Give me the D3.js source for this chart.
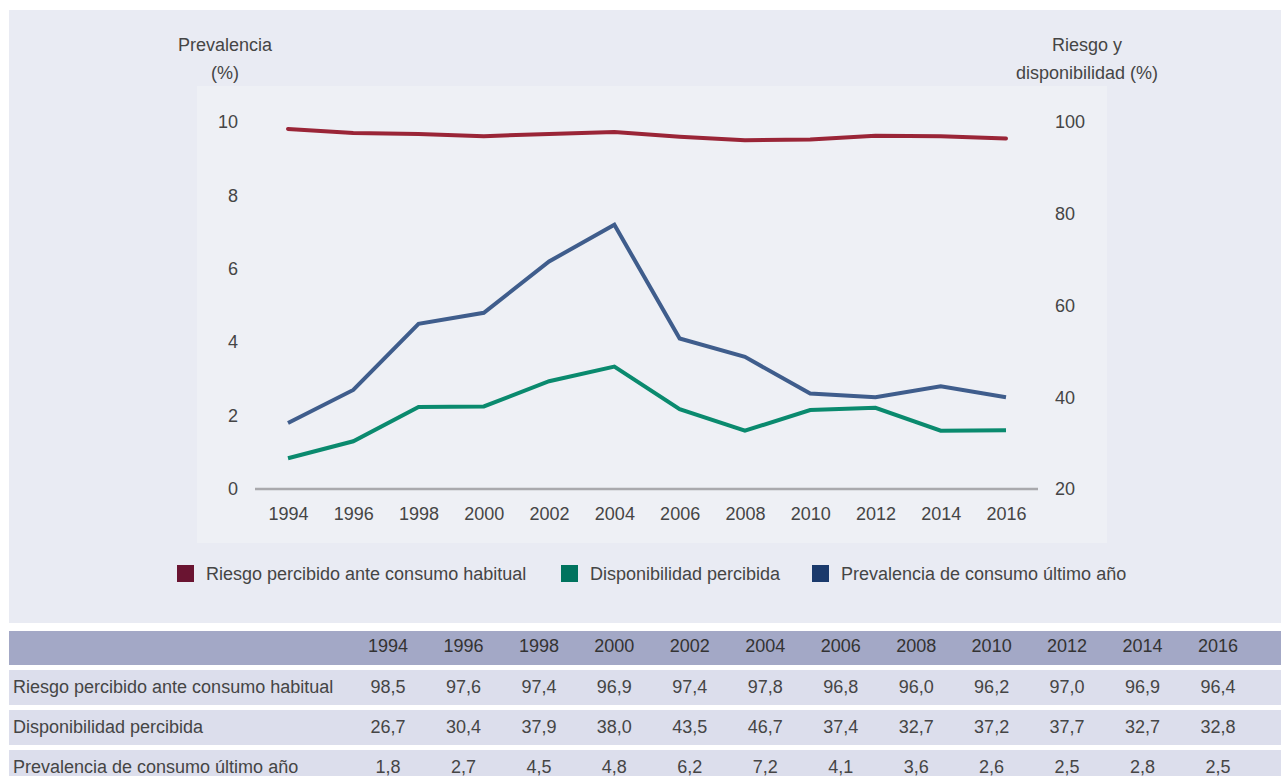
<!DOCTYPE html>
<html>
<head>
<meta charset="utf-8">
<script src="https://cdn.jsdelivr.net/npm/d3@7"></script>
<style>
  body { margin: 0; background: #fff; }
  text { font-family: "Liberation Sans", Arial, sans-serif; fill: #454545; }
</style>
</head>
<body>
<div id="chart"></div>
<script>
const width = 1282,
      height = 776;

// data
const years = [1994, 1996, 1998, 2000, 2002, 2004, 2006, 2008, 2010, 2012, 2014, 2016];
const riesgo = [98.5, 97.6, 97.4, 96.9, 97.4, 97.8, 96.8, 96.0, 96.2, 97.0, 96.9, 96.4];
const disponibilidad = [26.7, 30.4, 37.9, 38.0, 43.5, 46.7, 37.4, 32.7, 37.2, 37.7, 32.7, 32.8];
const prevalencia = [1.8, 2.7, 4.5, 4.8, 6.2, 7.2, 4.1, 3.6, 2.6, 2.5, 2.8, 2.5];
const leftTicks = [0, 2, 4, 6, 8, 10];
const rightTicks = [20, 40, 60, 80, 100];
const seriesNames = ["Riesgo percibido ante consumo habitual", "Disponibilidad percibida", "Prevalencia de consumo último año"];

const lineColors = ["#9a2537", "#0a8a6e", "#3f5d8c"];
const legendColors = ["#6a1431", "#00735e", "#1b3a6c"];

const fmt = v => v.toFixed(1).replace(".", ",");
const fs = "18px";

var svg = d3.select("#chart").append("svg")
  .attr("width", width)
  .attr("height", height);

// panels
svg.append("rect").attr("x", 9).attr("y", 10).attr("width", 1272).attr("height", 613)
  .style("fill", "#e9ebf3");
svg.append("rect").attr("x", 197).attr("y", 86).attr("width", 910).attr("height", 457)
  .style("fill", "#eef0f5");

const x = d3.scalePoint().domain(years).range([288, 1006]);
const yLeft = d3.scaleLinear().domain([0, 10]).range([489, 122]);
const yRight = d3.scaleLinear().domain([20, 100]).range([489, 122]);

// baseline
svg.append("line")
  .attr("x1", x(1994) - 33).attr("x2", x(2016) + 32)
  .attr("y1", yLeft(0)).attr("y2", yLeft(0))
  .style("stroke", "#a9a9ad").style("stroke-width", 2.5);

// axes
var gl = svg.append("g").attr("transform", "translate(238,0)")
  .call(d3.axisLeft(yLeft).tickValues(leftTicks).tickSize(0).tickPadding(0));
var gr = svg.append("g").attr("transform", "translate(1055,0)")
  .call(d3.axisRight(yRight).tickValues(rightTicks).tickSize(0).tickPadding(0));
var gx = svg.append("g").attr("transform", "translate(0,507)")
  .call(d3.axisBottom(x).tickSize(0).tickPadding(0));
[gl, gr, gx].forEach(g => {
  g.select(".domain").remove();
  g.selectAll("text").style("font-size", fs).style("fill", "#454545")
    .style("font-family", '"Liberation Sans", Arial, sans-serif');
});

// axis titles
svg.append("text").attr("x", 225).attr("y", 51).attr("text-anchor", "middle")
  .style("font-size", fs).text("Prevalencia");
svg.append("text").attr("x", 225).attr("y", 79).attr("text-anchor", "middle")
  .style("font-size", fs).text("(%)");
svg.append("text").attr("x", 1087).attr("y", 51).attr("text-anchor", "middle")
  .style("font-size", fs).text("Riesgo y");
svg.append("text").attr("x", 1087).attr("y", 79).attr("text-anchor", "middle")
  .style("font-size", fs).text("disponibilidad (%)");

// lines
const lineR = d3.line().x((d, i) => x(years[i])).y(d => yRight(d));
const lineL = d3.line().x((d, i) => x(years[i])).y(d => yLeft(d));

svg.append("path").datum(riesgo).attr("d", lineR)
  .style("fill", "none").style("stroke", lineColors[0]).style("stroke-width", 4)
  .style("stroke-linecap", "round");
svg.append("path").datum(disponibilidad).attr("d", lineR)
  .style("fill", "none").style("stroke", lineColors[1]).style("stroke-width", 4);
svg.append("path").datum(prevalencia).attr("d", lineL)
  .style("fill", "none").style("stroke", lineColors[2]).style("stroke-width", 4);

// legend
const legendX = [177, 561, 812];
var legend = svg.append("g").selectAll("g").data(seriesNames)
  .enter().append("g")
  .attr("transform", (d, i) => `translate(${legendX[i]},565)`);
legend.append("rect").attr("width", 17).attr("height", 17)
  .style("fill", (d, i) => legendColors[i]);
legend.append("text").attr("x", 29).attr("y", 15)
  .style("font-size", fs).text(d => d);

// table
const colX = d3.scalePoint().domain(years).range([388, 1218]);
svg.append("rect").attr("x", 9).attr("y", 631).attr("width", 1272).attr("height", 34)
  .style("fill", "#a3a8c6");
svg.append("g").selectAll("text").data(years).enter().append("text")
  .attr("x", d => colX(d)).attr("y", 652).attr("text-anchor", "middle")
  .style("font-size", fs).style("fill", "#333").text(d => d);

const rows = [riesgo, disponibilidad, prevalencia];
var row = svg.append("g").selectAll("g").data(rows).enter().append("g")
  .attr("transform", (d, i) => `translate(0,${670 + i * 40})`);
row.append("rect").attr("x", 9).attr("width", 1272).attr("height", 35)
  .style("fill", "#dcdeec");
row.append("text").attr("x", 13).attr("y", 23)
  .style("font-size", fs).text((d, i) => seriesNames[i]);
row.selectAll("text.v").data(d => d).enter().append("text")
  .attr("class", "v")
  .attr("x", (d, i) => colX(years[i])).attr("y", 23).attr("text-anchor", "middle")
  .style("font-size", fs).text(d => fmt(d));
</script>
</body>
</html>
